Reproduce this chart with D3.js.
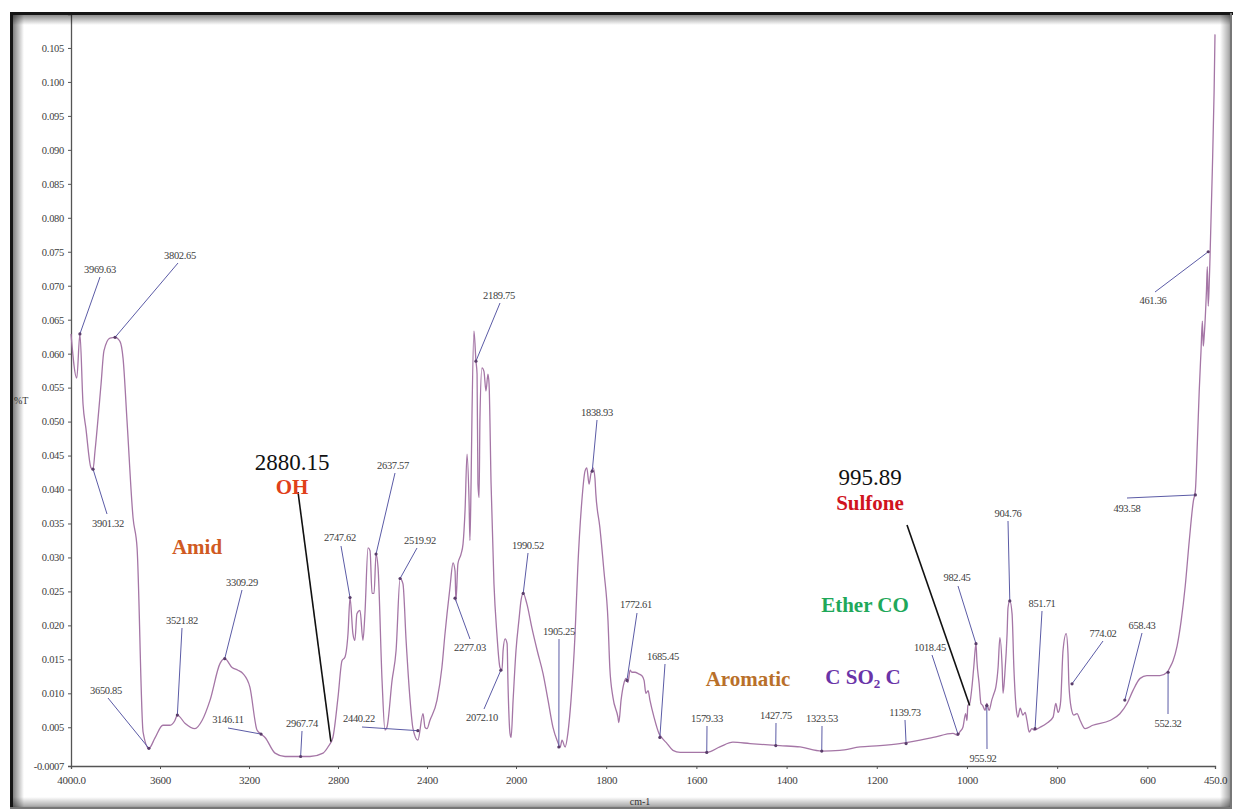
<!DOCTYPE html>
<html>
<head>
<meta charset="utf-8">
<script src="https://cdn.jsdelivr.net/npm/d3@7"></script>
<style>
  html, body { margin: 0; padding: 0; background: #fff; }
  svg { display: block; }
</style>
</head>
<body>
<script>
// ---------------- DATA ----------------
const wavenumber = [4000,3974,3960,3946,3933,3910,3901,3892,3865,3852,
  3825,3802,3780,3766,3748,3721,3703,3676,3650,3623,
  3587,3555,3533,3522,3488,3443,3411,3375,3330,3309,
  3276,3250,3227,3196,3164,3146,3128,3083,3038,2968,
  2926,2867,2845,2823,2800,2782,2769,2755,2746,2733,
  2724,2715,2701,2688,2679,2665,2656,2647,2638,2629,
  2620,2602,2589,2580,2557,2539,2521,2508,2494,2477,
  2463,2441,2418,2409,2400,2387,2355,2333,2319,2310,
  2297,2283,2274,2270,2261,2247,2238,2229,2220,2211,
  2207,2202,2198,2189,2180,2175,2171,2166,2162,2153,
  2144,2135,2126,2121,2112,2099,2086,2072,2063,2058,
  2049,2040,2036,2027,2022,2013,2000,1993,1989,1984,
  1976,1965,1953,1940,1929,1918,1909,1902,1898,1891,
  1885,1878,1869,1863,1854,1847,1843,1838,1834,1829,
  1825,1823,1814,1805,1796,1792,1785,1774,1772,1767,
  1761,1756,1752,1747,1743,1736,1729,1721,1716,1712,
  1707,1703,1694,1683,1676,1665,1652,1636,1592,1577,
  1548,1519,1481,1415,1370,1322,1282,1237,1193,1149,
  1104,1075,1031,1020,1016,1009,1003,1000,998,994,
  989,985,980,978,973,969,965,960,956,951,
  945,940,936,931,927,922,920,916,911,909,
  905,900,896,891,887,882,876,871,867,862,
  856,851,838,823,809,803,798,794,792,787,
  780,776,774,769,763,756,749,738,721,683,
  661,645,632,616,601,572,556,550,543,534,
  525,516,507,498,493.6,489,485,481,478,476,
  474,469,467,465,463,461,456,452,450];

const transmittance = [0.0629,0.0564,0.0629,0.0526,0.0490,0.0432,0.0430,0.0457,0.0555,0.0604,
  0.0623,0.0624,0.0618,0.0593,0.0500,0.0358,0.0314,0.0043,0.0019,0.0034,
  0.0053,0.0053,0.0060,0.0068,0.0056,0.0048,0.0060,0.0090,0.0144,0.0151,
  0.0138,0.0134,0.0129,0.0109,0.0046,0.0040,0.0035,0.0012,0.0007,0.0007,
  0.0007,0.0012,0.0021,0.0035,0.0094,0.0148,0.0153,0.0188,0.0241,0.0188,
  0.0178,0.0217,0.0222,0.0178,0.0217,0.0314,0.0310,0.0247,0.0247,0.0305,
  0.0285,0.0119,0.0046,0.0050,0.0119,0.0163,0.0269,0.0261,0.0178,0.0094,
  0.0048,0.0031,0.0070,0.0050,0.0048,0.0060,0.0090,0.0138,0.0188,0.0217,
  0.0255,0.0292,0.0280,0.0236,0.0291,0.0305,0.0320,0.0369,0.0452,0.0383,
  0.0325,0.0408,0.0505,0.0633,0.0589,0.0570,0.0408,0.0388,0.0505,0.0579,
  0.0574,0.0545,0.0570,0.0555,0.0408,0.0261,0.0188,0.0138,0.0134,0.0163,
  0.0180,0.0173,0.0114,0.0041,0.0035,0.0090,0.0163,0.0211,0.0236,0.0247,
  0.0232,0.0197,0.0163,0.0129,0.0090,0.0050,0.0031,0.0021,0.0031,0.0021,
  0.0041,0.0090,0.0188,0.0285,0.0383,0.0427,0.0432,0.0408,0.0423,0.0432,
  0.0417,0.0394,0.0344,0.0280,0.0207,0.0138,0.0094,0.0065,0.0057,0.0090,
  0.0114,0.0122,0.0116,0.0134,0.0131,0.0131,0.0129,0.0126,0.0119,0.0100,
  0.0104,0.0090,0.0065,0.0041,0.0034,0.0026,0.0016,0.0013,0.0013,0.0013,
  0.0021,0.0028,0.0026,0.0023,0.0021,0.0015,0.0016,0.0021,0.0023,0.0026,
  0.0031,0.0035,0.0041,0.0038,0.0043,0.0050,0.0070,0.0060,0.0082,0.0085,
  0.0109,0.0138,0.0173,0.0148,0.0114,0.0085,0.0082,0.0075,0.0085,0.0075,
  0.0090,0.0100,0.0109,0.0138,0.0182,0.0138,0.0100,0.0129,0.0188,0.0226,
  0.0236,0.0217,0.0138,0.0079,0.0065,0.0078,0.0068,0.0072,0.0060,0.0043,
  0.0048,0.0046,0.0050,0.0056,0.0065,0.0085,0.0072,0.0079,0.0090,0.0163,
  0.0188,0.0159,0.0114,0.0079,0.0068,0.0070,0.0060,0.0048,0.0053,0.0060,
  0.0070,0.0085,0.0104,0.0122,0.0126,0.0126,0.0131,0.0138,0.0148,0.0170,
  0.0207,0.0258,0.0325,0.0383,0.0398,0.0471,0.0545,0.0604,0.0648,0.0611,
  0.0626,0.0692,0.0728,0.0670,0.0699,0.0743,0.0868,0.0985,0.1070];

// Axis tick values
const xTickValues = [4000,3600,3200,2800,2400,2000,1800,1600,1400,1200,1000,800,600,450];
const yTickValues = [-0.0007,0.005,0.010,0.015,0.020,0.025,0.030,0.035,0.040,0.045,0.050,
  0.055,0.060,0.065,0.070,0.075,0.080,0.085,0.090,0.095,0.100,0.105];

// Peak labels and the spectrum point each one points at (wavenumber, %T)
const peakLabels = ["3969.63","3802.65","3901.32","3650.85","3521.82","3309.29","3146.11",
  "2967.74","2747.62","2637.57","2519.92","2440.22","2277.03","2189.75","2072.10","1990.52",
  "1905.25","1838.93","1772.61","1685.45","1579.33","1427.75","1323.53","1139.73","1018.45",
  "982.45","904.76","955.92","851.71","774.02","658.43","552.32","493.58","461.36"];
const peakAnchorWn = [3960,3802,3901,3650,3522,3309,3146,2968,2746,2629,2521,2441,2274,2180,
  2068,1984,1905,1831,1754,1681,1577,1424,1322,1135,1020,980,905,956,849,767,650,554,493.6,465];
const peakAnchorT = [0.0629,0.0624,0.0430,0.0019,0.0068,0.0151,0.0040,0.0007,0.0241,0.0305,
  0.0269,0.0045,0.0240,0.0589,0.0134,0.0247,0.0021,0.0427,0.0119,0.0035,0.0013,0.0023,0.0015,
  0.0026,0.0040,0.0173,0.0236,0.0082,0.0048,0.0114,0.0090,0.0131,0.0392,0.0750];

// Group annotations
const groupNames = ["Amid","OH","Aromatic","Ether CO","C SO\u2082 C","Sulfone"];
const bigNumbers = ["2880.15","995.89"];
const bigAnchorWn = [2832, 994];
const bigAnchorT = [0.0029, 0.0082];

// ---------------- LAYOUT (pixel positions of label texts) ----------------
const peakTextPos = [[100,269],[180,255],[108,523],[106,690],[182,620],[242,582],[228,719],
  [302,723],[340,537],[393,465],[420,540],[359,718],[470,647],[499,295],[482,717],[528,545],
  [559,631],[597,412],[636,604],[663,656],[707,718],[776,715],[822,718],[905,712],[930,647],
  [957,577],[1008,513],[983,758],[1042,603],[1103,633],[1142,625],[1168,723],[1127,508],[1153,300]];
const peakLineStart = [[100,277],[178,263],[107,514],[108,698],[182,628],[242,590],[228,728],
  [302,731],[341,546],[395,473],[417,548],[362,727],[470,639],[500,303],[484,709],[528,553],
  [559,639],[597,420],[637,613],[665,664],[707,726],[776,723],[822,726],[905,720],[932,655],
  [958,586],[1008,521],[987,749],[1042,611],[1103,641],[1142,633],[1168,714],[1127,498],[1155,292]];

const W = 1236, H = 811;
const svg = d3.select("body").append("svg").attr("width", W).attr("height", H);
svg.append("rect").attr("width", W).attr("height", H).attr("fill", "#fff");

// Scales: FTIR style, scale change at 2000 cm-1
const x = d3.scaleLinear().domain([4000, 2000, 450]).range([71, 516, 1215]);
const y = d3.scaleLinear().domain([-0.0007, 0.1100]).range([766, 14]);

const smallFont = "'Liberation Serif', 'Times New Roman', serif";
const textCol = "#3d3d3d";

// Y axis
const yAxis = d3.axisLeft(y).tickValues(yTickValues).tickSize(3).tickPadding(4)
  .tickFormat(d => d < 0 ? "-0.0007" : d3.format(".3f")(d));
const gy = svg.append("g").attr("transform", "translate(71,0)").call(yAxis);
gy.select(".domain").attr("stroke", "#555").attr("stroke-width", 1.3);
gy.selectAll(".tick line").attr("stroke", "#555");
gy.selectAll(".tick text").attr("font-family", smallFont).attr("font-size", 10.5)
  .attr("fill", textCol).attr("letter-spacing", "-0.3px");

// X axis
const xAxis = d3.axisBottom(x).tickValues(xTickValues).tickSize(3).tickPadding(7)
  .tickFormat(d => (d === 4000 || d === 450) ? d3.format(".1f")(d) : String(d));
const gx = svg.append("g").attr("transform", "translate(0,766)").call(xAxis);
gx.select(".domain").attr("stroke", "#555").attr("stroke-width", 1.3);
gx.selectAll(".tick line").attr("stroke", "#555");
gx.selectAll(".tick text").attr("font-family", smallFont).attr("font-size", 11)
  .attr("fill", textCol).attr("letter-spacing", "-0.3px");

// Axis titles
svg.append("text").attr("x", 640).attr("y", 805).attr("text-anchor", "middle")
  .attr("font-family", smallFont).attr("font-size", 10).attr("fill", textCol).text("cm-1");
svg.append("text").attr("x", 14).attr("y", 404)
  .attr("font-family", smallFont).attr("font-size", 10).attr("fill", textCol).text("%T");

// Spectrum
const pts = wavenumber.map((w, i) => [w, transmittance[i]]);
const line = d3.line().x(d => x(d[0])).y(d => y(d[1])).curve(d3.curveMonotoneX);
svg.append("path").datum(pts).attr("d", line).attr("fill", "none")
  .attr("stroke", "#a576a6").attr("stroke-width", 1.3).attr("stroke-linejoin", "round");

// Peak label leader lines, dots, texts
const peaks = peakLabels.map((t, i) => ({
  text: t, ax: x(peakAnchorWn[i]), ay: y(peakAnchorT[i]),
  tx: peakTextPos[i][0], ty: peakTextPos[i][1],
  lx: peakLineStart[i][0], ly: peakLineStart[i][1]
}));
svg.append("g").selectAll("line").data(peaks).join("line")
  .attr("x1", d => d.lx).attr("y1", d => d.ly).attr("x2", d => d.ax).attr("y2", d => d.ay)
  .attr("stroke", "#5b5ba6").attr("stroke-width", 1);
svg.append("g").selectAll("circle").data(peaks).join("circle")
  .attr("cx", d => d.ax).attr("cy", d => d.ay).attr("r", 1.6).attr("fill", "#5a3d6a");
svg.append("g").selectAll("text").data(peaks).join("text")
  .attr("x", d => d.tx).attr("y", d => d.ty + 3.5).attr("text-anchor", "middle")
  .attr("font-family", smallFont).attr("font-size", 10.5).attr("fill", textCol)
  .attr("letter-spacing", "-0.3px").text(d => d.text);

// Big numeric labels with black leader lines
const bigPos = [[292,462],[870,477]];
const bigLineStart = [[298,492],[907,525]];
bigNumbers.forEach((t, i) => {
  svg.append("line").attr("x1", bigLineStart[i][0]).attr("y1", bigLineStart[i][1])
    .attr("x2", x(bigAnchorWn[i])).attr("y2", y(bigAnchorT[i]))
    .attr("stroke", "#111").attr("stroke-width", 1.6);
  svg.append("text").attr("x", bigPos[i][0]).attr("y", bigPos[i][1] + 8)
    .attr("text-anchor", "middle").attr("font-family", smallFont)
    .attr("font-size", 23).attr("fill", "#111").text(t);
});

// Group names
const groupPos = [[197,547],[292,487],[748,679],[865,605],[863,677],[870,503]];
const groupCol = ["#d05a22","#e0401a","#b9702a","#1fa85a","#6a34a8","#d0141e"];
groupNames.forEach((t, i) => {
  const tx = svg.append("text").attr("x", groupPos[i][0]).attr("y", groupPos[i][1] + 7)
    .attr("text-anchor", "middle").attr("font-family", smallFont)
    .attr("font-weight", "bold").attr("font-size", 21).attr("fill", groupCol[i]);
  if (t.indexOf("\u2082") >= 0) {
    tx.append("tspan").text("C SO");
    tx.append("tspan").attr("font-size", 13).attr("dy", 4).text("2");
    tx.append("tspan").attr("dy", -4).text(" C");
  } else {
    tx.text(t);
  }
});

// ---------------- Frame (photo-like border) ----------------
const defs = svg.append("defs");
function grad(id, x1, y1, x2, y2, stops) {
  const g = defs.append("linearGradient").attr("id", id)
    .attr("x1", x1).attr("y1", y1).attr("x2", x2).attr("y2", y2);
  stops.forEach(s => g.append("stop").attr("offset", s[0]).attr("stop-color", "#000").attr("stop-opacity", s[1]));
}
grad("gl", 0, 0, 1, 0, [[0, 0.5], [1, 0]]);
grad("gt", 0, 0, 0, 1, [[0, 0.45], [1, 0]]);
grad("gr", 0, 0, 1, 0, [[0, 0], [0.7, 0.3], [1, 0.5]]);
grad("gb", 0, 0, 0, 1, [[0, 0], [0.7, 0.3], [1, 0.5]]);
svg.append("rect").attr("x", 13).attr("y", 15).attr("width", 11).attr("height", 792).attr("fill", "url(#gl)");
svg.append("rect").attr("x", 13).attr("y", 15).attr("width", 1218).attr("height", 10).attr("fill", "url(#gt)");
svg.append("rect").attr("x", 1220).attr("y", 13).attr("width", 12).attr("height", 796).attr("fill", "url(#gr)");
svg.append("rect").attr("x", 10).attr("y", 797).attr("width", 1222).attr("height", 12).attr("fill", "url(#gb)");
svg.append("line").attr("x1", 10).attr("y1", 13.5).attr("x2", 1233).attr("y2", 13.5).attr("stroke", "#151515").attr("stroke-width", 3);
svg.append("line").attr("x1", 11.5).attr("y1", 12).attr("x2", 11.5).attr("y2", 809).attr("stroke", "#151515").attr("stroke-width", 3);
svg.append("line").attr("x1", 1231).attr("y1", 13).attr("x2", 1231).attr("y2", 809).attr("stroke", "#777").attr("stroke-width", 2);
svg.append("line").attr("x1", 10).attr("y1", 808).attr("x2", 1232).attr("y2", 808).attr("stroke", "#777").attr("stroke-width", 2);
</script>
</body>
</html>
